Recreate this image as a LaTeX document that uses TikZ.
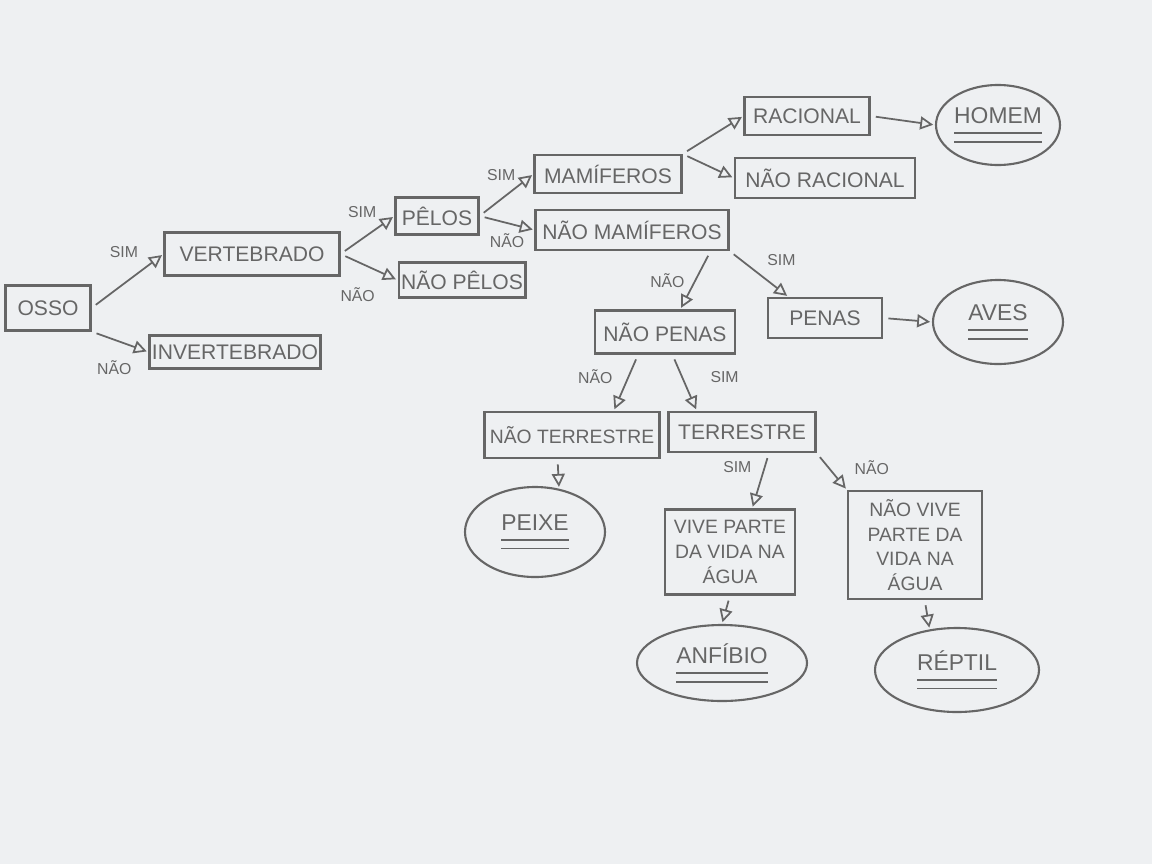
\documentclass[tikz,border=0pt]{standalone}
\usepackage{fontspec}
\setmainfont{Liberation Sans}
\usetikzlibrary{arrows.meta,shapes.geometric}
\definecolor{pencil}{HTML}{666666}
\definecolor{paper}{HTML}{EEF0F2}
% name of a leaf, with two strokes under it
\newcommand{\leafname}[1]{\setbox0\hbox{#1}\vtop{\hbox{#1}\kern5pt
  \hrule width\wd0 height0.9pt\kern4pt\hrule width\wd0 height0.9pt}}
\tikzset{
  box/.style={draw=pencil,line width=1.2pt,text=pencil,align=center,
    font=\fontsize{12}{14}\selectfont,inner sep=0.5mm},
  leaf/.style={ellipse,draw=pencil,line width=1.2pt,text=pencil,
    font=\fontsize{13}{15}\selectfont,inner sep=0pt},
  arrow/.style={-{Triangle[open,length=2.6mm,width=2.6mm]},draw=pencil,
    line width=1pt,shorten <=3pt,shorten >=1pt},
  answer/.style={text=pencil,font=\fontsize{9}{10}\selectfont,inner sep=0.5mm}
}

\begin{document}
\begin{tikzpicture}[x=0.2mm,y=-0.2mm]
  \fill[paper] (0,0) rectangle (1152,864);
  \useasboundingbox (0,0) rectangle (1152,864);
  % question boxes
  \node[box,minimum width=17mm,minimum height=9mm] (osso) at (48,308) {OSSO};
  \node[box,minimum width=34mm,minimum height=6.6mm] (invert) at (235,352) {INVERTEBRADO};
  \node[box,minimum width=35mm,minimum height=8.6mm] (vert) at (252,254) {VERTEBRADO};
  \node[box,minimum width=16.6mm,minimum height=7.4mm] (pelos) at (437,216) {PÊLOS};
  \node[box,minimum width=25mm,minimum height=7mm] (naopelos) at (462,280) {NÃO PÊLOS};
  \node[box,minimum width=29.4mm,minimum height=7.6mm] (mamif) at (608,174) {MAMÍFEROS};
  \node[box,minimum width=38.6mm,minimum height=8mm] (naomamif) at (632,230) {NÃO MAMÍFEROS};
  \node[box,minimum width=25mm,minimum height=7.6mm] (racional) at (807,116) {RACIONAL};
  \node[box,minimum width=36mm,minimum height=8mm] (naoracional) at (825,178) {NÃO RACIONAL};
  \node[box,minimum width=22.8mm,minimum height=8mm] (penas) at (825,318) {PENAS};
  \node[box,minimum width=28mm,minimum height=8.6mm] (naopenas) at (665,332) {NÃO PENAS};
  \node[box,minimum width=35mm,minimum height=9.2mm,font=\fontsize{11}{14}\selectfont] (naoterr) at (572,435) {NÃO TERRESTRE};
  \node[box,minimum width=29.4mm,minimum height=8mm] (terr) at (742,432) {TERRESTRE};
  \node[box,minimum width=26mm,minimum height=17mm,font=\fontsize{11}{14}\selectfont] (vive) at (730,552) {VIVE PARTE\\DA VIDA NA\\ÁGUA};
  \node[box,minimum width=26.8mm,minimum height=21.6mm,font=\fontsize{11}{14}\selectfont] (naovive) at (915,545) {NÃO VIVE\\PARTE DA\\VIDA NA\\ÁGUA};
  % answers
  \node[leaf,minimum width=24.8mm,minimum height=16mm] (homem) at (998,125) {\leafname{HOMEM}};
  \node[leaf,minimum width=26mm,minimum height=16.8mm] (aves) at (998,322) {\leafname{AVES}};
  \node[leaf,minimum width=28mm,minimum height=18mm] (peixe) at (535,532) {\leafname{PEIXE}};
  \node[leaf,minimum width=34mm,minimum height=15.2mm] (anfibio) at (722,663) {\leafname{ANFÍBIO}};
  \node[leaf,minimum width=32.8mm,minimum height=16.8mm] (reptil) at (957,670) {\leafname{RÉPTIL}};
  % connectors
  \draw[arrow] (osso.east) -- node[answer,pos=0.45,above=4.5mm] {SIM} (vert.west);
  \draw[arrow] (osso.south east) -- node[answer,pos=0.4,below=3.5mm] {NÃO} (invert.west);
  \draw[arrow] (vert.east) -- node[answer,pos=0.4,above=3.5mm] {SIM} (pelos.west);
  \draw[arrow] (vert.east) -- node[answer,pos=0.3,below=4.5mm] {NÃO} (naopelos.west);
  \draw[arrow] (pelos.east) -- node[answer,pos=0.4,above=3mm] {SIM} (mamif.west);
  \draw[arrow] (pelos.east) -- node[answer,pos=0.5,below=1.5mm] {NÃO} (naomamif.west);
  \draw[arrow] (mamif.north east) -- (racional.west);
  \draw[arrow] (mamif.north east) -- (naoracional.west);
  \draw[arrow] (racional.east) -- (homem.west);
  \draw[arrow] (naomamif.-15) -- node[answer,pos=0.5,left=1.5mm] {NÃO} (naopenas.56);
  \draw[arrow] (naomamif.south east) -- node[answer,pos=0.5,above right=1mm] {SIM} (penas.150);
  \draw[arrow] (penas.east) -- (aves.west);
  \draw[arrow] (naopenas.-140) -- node[answer,pos=0.4,left=2.5mm] {NÃO} (naoterr.30);
  \draw[arrow] (naopenas.-72) -- node[answer,pos=0.4,right=5mm] {SIM} (terr.155);
  \draw[arrow] (naoterr.-121) -- (peixe.61);
  \draw[arrow] (terr.-38) -- node[answer,pos=0.25,left=2mm] {SIM} (vive.63);
  \draw[arrow] (terr.south east) -- node[answer,pos=0.4,right=4.5mm] {NÃO} (naovive.north west);
  \draw[arrow] (vive.south) -- (anfibio.north);
  \draw[arrow] (naovive.-80) -- (reptil.124);
\end{tikzpicture}
\end{document}
